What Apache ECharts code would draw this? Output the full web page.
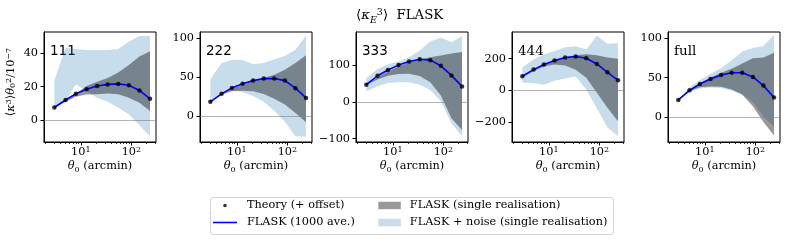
<!DOCTYPE html>
<html><head><meta charset="utf-8">
<script src="https://cdn.jsdelivr.net/npm/echarts@6/dist/echarts.min.js"></script>
<style>html,body{margin:0;padding:0;background:#fff}#c{width:789px;height:241px}</style>
</head><body><div id="c"></div>
<script>
// ---------------- data ----------------
const theta = [3, 5, 8, 13, 21, 34, 55, 89, 144, 233];
const panelLabels = ['111', '222', '333', '444', 'full'];
const xTickValues = [10, 100];
const xMinorTickValues = [2, 3, 4, 5, 6, 7, 8, 9, 20, 30, 40, 50, 60, 70, 80, 90, 200, 300];

const yTicks111 = [0, 20, 40];
const yTicks222 = [0, 50, 100];
const yTicks333 = [-100, 0, 100];
const yTicks444 = [-200, 0, 200];
const yTicksFull = [0, 50, 100];

// 111
const theory111 = [7.6, 12.1, 15.8, 18.5, 20.4, 21.4, 21.7, 20.9, 17.8, 12.8];
const flask111  = [7.6, 12.1, 15.8, 18.5, 20.4, 21.4, 21.7, 20.9, 17.8, 12.8];
const grayHi111 = [7.6, 12, 16, 20.5, 23, 25.3, 28.5, 33, 38, 41.2];
const grayLo111 = [7.6, 11, 14, 15.3, 15.5, 16, 15.5, 13.5, 10.5, 5.5];
const blueHi111 = [23.7, 43.5, 42.5, 42, 42, 42, 42.5, 47, 50.3, 50.5];
const blueLo111 = [7.4, 11.5, 21.5, 17.5, 13.5, 11, 7.5, 3.5, -3, -9.6];
// 222
const theory222 = [18.5, 28.7, 36.2, 41.5, 45.6, 48.2, 48.4, 45.6, 36, 23.5];
const flask222  = [18.5, 28.7, 36.2, 41.5, 45.6, 48.2, 48.4, 45.6, 36, 23.5];
const grayHi222 = [18.5, 28, 35, 40, 44.7, 49, 53, 59.6, 68, 78];
const grayLo222 = [18.5, 27.5, 32, 32.8, 32, 28.5, 22.5, 15, 4.3, -7.7];
const blueHi222 = [47.5, 68, 72, 72, 66.5, 68, 73, 77, 85, 103];
const blueLo222 = [18.3, 29, 33, 31, 26, 18.5, 7, -7, -25.5, -26];
// 333
const theory333 = [47, 71.5, 87, 100.5, 110.4, 116.5, 114, 98.6, 72.4, 42.5];
const flask333  = [47, 71.5, 87, 100.5, 110.4, 116.5, 114, 98.6, 72.4, 42.5];
const grayHi333 = [47, 68, 83, 97, 108, 116, 122, 127, 132, 136];
const grayLo333 = [46, 61, 71.5, 76, 77, 71, 54, 18, -44, -76];
const blueHi333 = [65, 90, 103, 110, 122, 140, 165, 176, 163, 179];
const blueLo333 = [29, 43, 52, 54, 54, 47, 33, 2, -58, -93];
// 444
const theory444 = [89, 131, 163, 188, 207, 214, 203, 167, 114, 63.5];
const flask444  = [89, 131, 163, 188, 207, 214, 203, 167, 114, 63.5];
const grayHi444 = [89, 125, 158, 185, 210, 222, 228, 222, 208, 200];
const grayLo444 = [85, 120, 150, 163, 157, 130, 80, -15, -110, -195];
const blueHi444 = [146, 195, 226, 248, 273, 279, 258, 345, 295, 298];
const blueLo444 = [50, 45, 35, 60, 75, 88, 5, -115, -235, -290];
// full
const theoryFull = [22, 34, 42, 48.3, 53.3, 56.3, 56.3, 51, 40, 25];
const flaskFull  = [22, 34, 42, 48.3, 53.3, 56.3, 56.3, 51, 40, 25];
const grayHiFull = [22, 35, 43.3, 50.2, 56.3, 61.3, 68, 74.4, 75.5, 81.4];
const grayLoFull = [22, 33, 38, 39, 38.5, 35, 28.5, 14, -6, -23];
const blueHiFull = [22, 38, 47, 55, 62, 72, 83, 87.5, 90, 104];
const blueLoFull = [21.5, 32, 36.5, 37.5, 37, 33.5, 29.5, 19, 1, -12];

const seriesNames = ['Theory (+ offset)', 'FLASK (1000 ave.)', 'FLASK (single realisation)', 'FLASK + noise (single realisation)'];

// ---------------- layout / style ----------------
const panels = [
  {theory: theory111, flask: flask111, gHi: grayHi111, gLo: grayLo111, bHi: blueHi111, bLo: blueLo111, ticks: yTicks111},
  {theory: theory222, flask: flask222, gHi: grayHi222, gLo: grayLo222, bHi: blueHi222, bLo: blueLo222, ticks: yTicks222},
  {theory: theory333, flask: flask333, gHi: grayHi333, gLo: grayLo333, bHi: blueHi333, bLo: blueLo333, ticks: yTicks333},
  {theory: theory444, flask: flask444, gHi: grayHi444, gLo: grayLo444, bHi: blueHi444, bLo: blueLo444, ticks: yTicks444},
  {theory: theoryFull, flask: flaskFull, gHi: grayHiFull, gLo: grayLoFull, bHi: blueHiFull, bLo: blueLoFull, ticks: yTicksFull}
];
const gridLeft = [44, 200, 356, 512, 668];
const yRange = [[-13, 52.7], [-32.8, 107.7], [-109, 190.7], [-327, 369], [-31.1, 107.6]];
const labelFonts = ['DejaVu Sans', 'DejaVu Sans', 'DejaVu Sans', 'DejaVu Serif', 'DejaVu Serif'];
const xMin = 1.875, xMax = 306;
const FONT = 'DejaVu Serif';
const FS = 11.3;
const TFS = 13.3;
const BLUE_FILL = 'rgba(31,119,180,0.25)';
const GRAY_FILL = 'rgba(0,0,0,0.4)';

const grids = [], xAxes = [], yAxes = [], series = [], graphics = [];

function band(hi, lo, color) {
  return function (params, api) {
    const pts = [];
    for (let i = 0; i < theta.length; i++) pts.push(api.coord([theta[i], hi[i]]));
    for (let i = theta.length - 1; i >= 0; i--) pts.push(api.coord([theta[i], lo[i]]));
    return {type: 'polygon', shape: {points: pts}, style: {fill: color, stroke: null}};
  };
}

const yNameRich = {
  r: {fontFamily: FONT, fontSize: FS, lineHeight: 12, verticalAlign: 'bottom', color: '#000'},
  i: {fontFamily: FONT, fontSize: FS, lineHeight: 12, verticalAlign: 'bottom', fontStyle: 'italic', color: '#000'},
  s: {fontFamily: FONT, fontSize: 8, lineHeight: 8, verticalAlign: 'top', padding: [0, 0, 7, 0], color: '#000'},
  b: {fontFamily: FONT, fontSize: 8, lineHeight: 8, verticalAlign: 'bottom', padding: [0, 0, 0, 0], color: '#000'}
};

panels.forEach((p, i) => {
  grids.push({left: gridLeft[i], top: 32, width: 112, height: 110, show: true,
    borderColor: '#000', borderWidth: 1, backgroundColor: 'transparent', containLabel: false});
  xAxes.push({
    type: 'log', logBase: 10, gridIndex: i, min: xMin, max: xMax, position: 'bottom',
    axisLine: {show: true, onZero: false, lineStyle: {color: '#000', width: 1}},
    axisTick: {show: true, length: 3.5, customValues: xTickValues, lineStyle: {color: '#000', width: 1}},
    axisLabel: {show: true, customValues: xTickValues, margin: 4, color: '#000',
      formatter: v => '{b|10}{s|' + Math.round(Math.log10(v)) + '}',
      rich: {b: {fontFamily: FONT, fontSize: FS, lineHeight: 12, verticalAlign: 'bottom', color: '#000'},
             s: {fontFamily: FONT, fontSize: 8, lineHeight: 8, verticalAlign: 'top', padding: [0, 0, 6, 0], color: '#000'}}},
    splitLine: {show: false}, minorTick: {show: false}, minorSplitLine: {show: false},
    name: '{t|θ}{o|0}{b| (arcmin)}', nameLocation: 'middle', nameGap: 17,
    nameTextStyle: {color: '#000', rich: {
      t: {fontFamily: FONT, fontSize: FS, fontStyle: 'italic', lineHeight: 12, verticalAlign: 'top', color: '#000'},
      o: {fontFamily: FONT, fontSize: 8, lineHeight: 8, verticalAlign: 'top', padding: [5, 0, 0, 0], color: '#000'},
      b: {fontFamily: FONT, fontSize: FS, lineHeight: 12, verticalAlign: 'top', color: '#000'}}}
  });
  xAxes.push({
    type: 'log', logBase: 10, gridIndex: i, min: xMin, max: xMax, position: 'bottom',
    axisLine: {show: false, onZero: false},
    axisTick: {show: true, length: 2, customValues: xMinorTickValues, lineStyle: {color: '#000', width: 0.8}},
    axisLabel: {show: false}, splitLine: {show: false}
  });
  yAxes.push({
    type: 'value', gridIndex: i, min: yRange[i][0], max: yRange[i][1],
    axisLine: {show: true, onZero: false, lineStyle: {color: '#000', width: 1}},
    axisTick: {show: true, length: 3.5, customValues: p.ticks, lineStyle: {color: '#000', width: 1}},
    axisLabel: {show: true, customValues: p.ticks, margin: 6, color: '#000', fontFamily: FONT, fontSize: FS,
      formatter: v => (v < 0 ? '\u2212' + Math.abs(v) : String(v))},
    splitLine: {show: false},
    name: i === 0 ? '{r|⟨}{i|κ}{s|3}{r|⟩}{i|θ}{b|0}{s|2}{r|/10}{s|−7}' : '',
    nameLocation: 'middle', nameRotate: 90, nameGap: 21,
    nameTextStyle: {color: '#000', fontFamily: FONT, fontSize: FS, padding: [0, 0, 0, 10], rich: yNameRich}
  });
  const xi = i * 2;
  series.push({
    type: 'custom', name: seriesNames[3], xAxisIndex: xi, yAxisIndex: i, z: 1, silent: true,
    itemStyle: {color: BLUE_FILL}, data: [[theta[0], p.bLo[0]]], renderItem: band(p.bHi, p.bLo, BLUE_FILL)
  });
  series.push({
    type: 'custom', name: seriesNames[2], xAxisIndex: xi, yAxisIndex: i, z: 2, silent: true,
    itemStyle: {color: GRAY_FILL}, data: [[theta[0], p.gLo[0]]], renderItem: band(p.gHi, p.gLo, GRAY_FILL)
  });
  series.push({
    type: 'line', name: seriesNames[1], xAxisIndex: xi, yAxisIndex: i, z: 4, silent: true,
    symbol: 'none', smooth: false, color: '#0000ff',
    lineStyle: {color: '#0000ff', width: 1.6},
    data: theta.map((t, k) => [t, p.flask[k]]),
    markLine: {silent: true, symbol: 'none', z: 3, label: {show: false},
      lineStyle: {color: 'rgba(128,128,128,0.6)', width: 1, type: 'solid'},
      emphasis: {disabled: true}, data: [{yAxis: 0}]}
  });
  series.push({
    type: 'scatter', name: seriesNames[0], xAxisIndex: xi, yAxisIndex: i, z: 5, silent: true,
    symbol: 'circle', symbolSize: 4.5, itemStyle: {color: '#000'},
    data: theta.map((t, k) => [t, p.theory[k]])
  });
  graphics.push({type: 'text', x: gridLeft[i] + 6, y: 51, silent: true,
    style: {text: panelLabels[i], fontFamily: labelFonts[i], fontSize: 13.5, fill: '#000', verticalAlign: 'middle', align: 'left'}});
});

graphics.push({type: 'rect', silent: true, z: -1,
  shape: {x: 210.5, y: 197.5, width: 403, height: 37, r: 3},
  style: {fill: '#fff', stroke: '#d4d4d4', lineWidth: 1}});

const option = {
  backgroundColor: '#fff',
  animation: false,
  title: {
    text: '{a|⟨}{k|κ}{e|E}{t|3}{a|⟩  FLASK}', left: 351, top: 3,
    textStyle: {fontFamily: FONT, fontSize: TFS, lineHeight: 16, fontWeight: 'normal', color: '#000',
      rich: {
        a: {fontFamily: FONT, fontSize: TFS, lineHeight: 16, color: '#000'},
        k: {fontFamily: FONT, fontSize: TFS, lineHeight: 16, fontStyle: 'italic', color: '#000'},
        e: {fontFamily: FONT, fontSize: 9.5, lineHeight: 10, fontStyle: 'italic', color: '#000', padding: [8, 0, 0, 0], verticalAlign: 'top'},
        t: {fontFamily: FONT, fontSize: 9.5, lineHeight: 10, color: '#000', padding: [0, 0, 6, 0], verticalAlign: 'top'}
      }}
  },
  grid: grids, xAxis: xAxes, yAxis: yAxes, series: series, graphic: graphics,
  legend: [
    {data: [
      {name: seriesNames[0], icon: 'path://M0,0M24,0M24,8M0,8M10.2,4a1.8,1.8 0 1,0 3.6,0a1.8,1.8 0 1,0 -3.6,0Z'},
      {name: seriesNames[1], icon: 'path://M0,0M24,0M24,8M0,8M0,3.2L24,3.2L24,4.8L0,4.8Z'}],
     orient: 'vertical', left: 213, top: 199, padding: 0, itemWidth: 24, itemHeight: 8, itemGap: 4,
     selectedMode: false,
     textStyle: {fontFamily: FONT, fontSize: FS, color: '#000', lineHeight: 13, padding: [0, 0, 0, 5]}},
    {data: [{name: seriesNames[2], icon: 'rect'}, {name: seriesNames[3], icon: 'rect'}],
     orient: 'vertical', left: 378.3, top: 199, padding: 0, itemWidth: 22.5, itemHeight: 7.5, itemGap: 4,
     selectedMode: false,
     textStyle: {fontFamily: FONT, fontSize: FS, color: '#000', lineHeight: 13, padding: [0, 0, 0, 4]}}
  ]
};
const chart = echarts.init(document.getElementById('c'), null, {renderer: 'canvas'});
chart.setOption(option);
</script></body></html>
